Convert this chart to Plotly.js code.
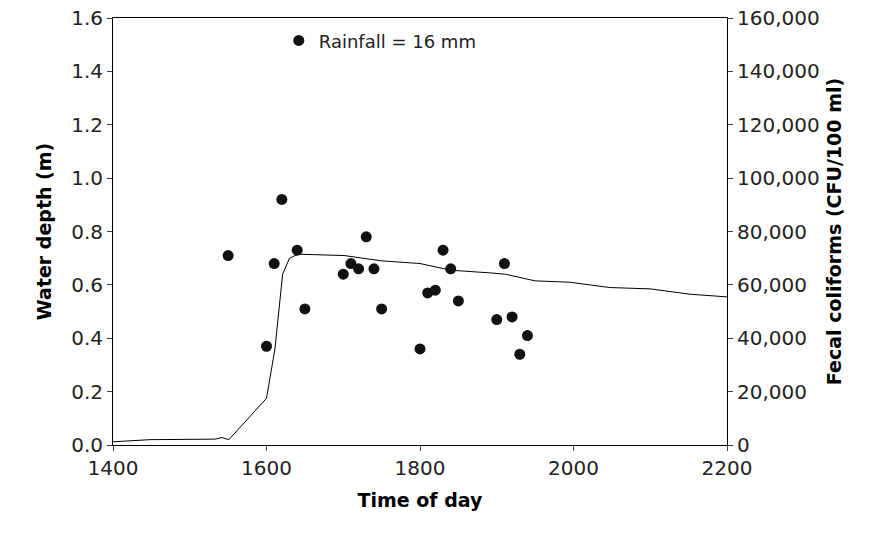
<!DOCTYPE html>
<html>
<head>
<meta charset="utf-8">
<script src="https://cdn.plot.ly/plotly-3.0.1.min.js"></script>
<style>body{margin:0;background:#fff}</style>
</head>
<body>
<div id="chart" style="width:884px;height:537px"></div>
<script>
// fecal coliform samples (time, CFU/100 ml)
var sampleTime = [1550, 1600, 1610, 1620, 1640, 1650, 1700, 1710, 1720, 1730, 1740, 1750,
  1800, 1810, 1820, 1830, 1840, 1850, 1900, 1910, 1920, 1930, 1940];
var coliforms = [71000, 37000, 68000, 92000, 73000, 51000, 64000, 68000, 66000, 78000, 66000, 51000,
  36000, 57000, 58000, 73000, 66000, 54000, 47000, 68000, 48000, 34000, 41000];

// water depth trace (time, m)
var depthTime = [1400, 1448, 1533, 1542, 1551, 1600, 1611, 1621, 1630, 1641, 1701, 1750, 1800,
  1840, 1891, 1911, 1950, 1995, 2047, 2100, 2152, 2200];
var depth = [0.012, 0.02, 0.022, 0.028, 0.02, 0.175, 0.36, 0.64, 0.70, 0.715, 0.71, 0.69, 0.68,
  0.655, 0.645, 0.64, 0.615, 0.61, 0.59, 0.585, 0.565, 0.555];

var font = {family: 'DejaVu Sans, sans-serif', size: 20, color: '#222'};
var titleFont = {family: font.family, size: 19, color: '#000'};

var data = [
  {
    x: depthTime, y: depth, type: 'scatter', mode: 'lines',
    line: {color: '#000', width: 1}, showlegend: false, hoverinfo: 'skip'
  },
  {
    x: sampleTime, y: coliforms, yaxis: 'y2', type: 'scatter', mode: 'markers',
    name: 'Rainfall = 16 mm',
    marker: {color: '#111', size: 11}
  }
];

var layout = {
  width: 884, height: 537,
  margin: {l: 113, r: 157, t: 18, b: 92},
  paper_bgcolor: '#fff', plot_bgcolor: '#fff',
  font: font,
  showlegend: true,
  legend: {x: 0.27, y: 0.99, xanchor: 'left', yanchor: 'top', bgcolor: 'rgba(0,0,0,0)',
    font: {family: font.family, size: 18, color: '#222'}},
  xaxis: {
    range: [1400, 2200], dtick: 200, showgrid: false, zeroline: false,
    showline: true, linecolor: '#000', mirror: true, ticks: 'outside', ticklen: 5,
    title: {text: '<b>Time of day</b>', font: titleFont, standoff: 14}
  },
  yaxis: {
    range: [0, 1.6], dtick: 0.2, tickformat: '.1f', showgrid: false, zeroline: false,
    showline: true, linecolor: '#000', ticks: 'outside', ticklen: 5,
    title: {text: '<b>Water depth (m)</b>', font: titleFont, standoff: 14}
  },
  yaxis2: {
    overlaying: 'y', side: 'right', range: [0, 160000], dtick: 20000, tickformat: ',d',
    showgrid: false, zeroline: false, showline: true, linecolor: '#000', ticks: 'outside', ticklen: 5,
    title: {text: '<b>Fecal coliforms (CFU/100 ml)</b>', font: titleFont, standoff: 8}
  }
};

Plotly.newPlot('chart', data, layout, {displayModeBar: false});
</script>
</body>
</html>
